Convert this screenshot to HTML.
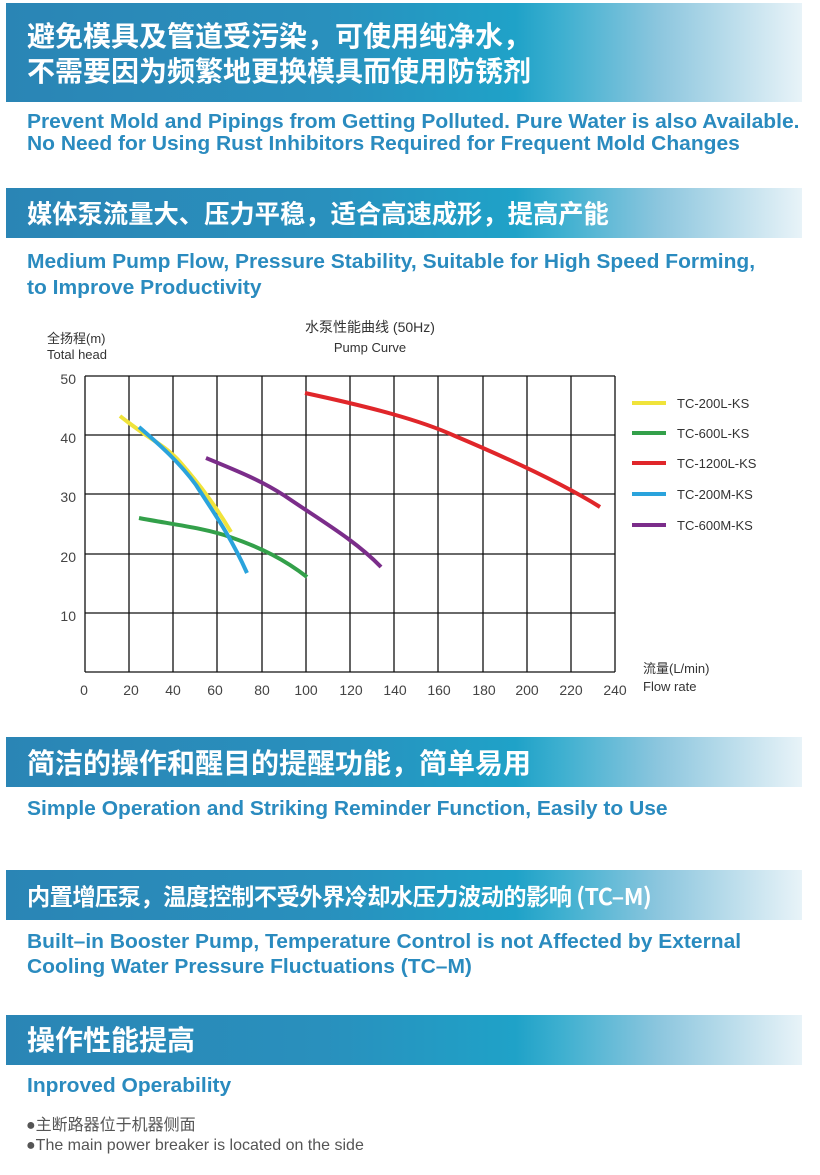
<!DOCTYPE html>
<html><head><meta charset="utf-8"><style>
*{margin:0;padding:0;box-sizing:border-box}
body{width:820px;height:1175px;background:#fff;position:relative;overflow:hidden;font-family:"Liberation Sans","Noto Sans CJK SC",sans-serif}
.b{position:absolute;left:6px;width:796px;background:linear-gradient(90deg,#2a85b5 0%,#2990bd 40%,#1fa2c8 64%,#3fb0d0 70%,#8cc6de 82%,#e8f3f8 100%)}
.cn{position:absolute;left:27px;color:#fff;font-weight:bold;font-size:28px;white-space:nowrap;font-family:"Noto Sans CJK SC","WenQuanYi Zen Hei",sans-serif;line-height:36px}
.en{position:absolute;left:27px;color:#2a8bbf;font-weight:bold;font-size:20px;white-space:nowrap;transform:scaleX(1.05);transform-origin:left top;line-height:22px}
.g{position:absolute;left:26px;color:#555;font-size:16px;white-space:nowrap}
</style></head><body>
<div class="b" style="top:3px;height:99px"></div>
<div class="cn" style="top:17px">避免模具及管道受污染，可使用纯净水，</div>
<div class="cn" style="top:52px">不需要因为频繁地更换模具而使用防锈剂</div>
<div class="en" style="top:111px">Prevent Mold and Pipings from Getting Polluted. Pure Water is also Available.<br>No Need for Using Rust Inhibitors Required for Frequent Mold Changes</div>

<div class="b" style="top:188px;height:50px"></div>
<div class="cn" style="top:195px;font-size:25.3px">媒体泵流量大、压力平稳，适合高速成形，提高产能</div>
<div class="en" style="top:249px;line-height:26px">Medium Pump Flow, Pressure Stability, Suitable for High Speed Forming,<br>to Improve Productivity</div>

<svg style="position:absolute;left:0;top:300px" width="820" height="410" viewBox="0 300 820 410" font-family="Liberation Sans, Noto Sans CJK SC, sans-serif">
<g fill="#333" font-size="13">
<text x="47" y="343">全扬程(m)</text><text x="47" y="359">Total head</text>
<text x="370" y="332" text-anchor="middle" font-size="14">水泵性能曲线 (50Hz)</text>
<text x="370" y="352" text-anchor="middle">Pump Curve</text>
<text x="643" y="673">流量(L/min)</text><text x="643" y="691">Flow rate</text>
</g>
<g stroke="#111" stroke-width="1.3">
<line x1="85" y1="376" x2="615" y2="376"/><line x1="85" y1="435" x2="615" y2="435"/><line x1="85" y1="494" x2="615" y2="494"/><line x1="85" y1="554" x2="615" y2="554"/><line x1="85" y1="613" x2="615" y2="613"/><line x1="85" y1="672" x2="615" y2="672"/>
<line x1="85" y1="376" x2="85" y2="672"/><line x1="129" y1="376" x2="129" y2="672"/><line x1="173" y1="376" x2="173" y2="672"/><line x1="217" y1="376" x2="217" y2="672"/><line x1="262" y1="376" x2="262" y2="672"/><line x1="306" y1="376" x2="306" y2="672"/><line x1="350" y1="376" x2="350" y2="672"/><line x1="394" y1="376" x2="394" y2="672"/><line x1="438" y1="376" x2="438" y2="672"/><line x1="483" y1="376" x2="483" y2="672"/><line x1="527" y1="376" x2="527" y2="672"/><line x1="571" y1="376" x2="571" y2="672"/><line x1="615" y1="376" x2="615" y2="672"/>
</g>
<g fill="#444" font-size="14" text-anchor="end">
<text x="76" y="384">50</text><text x="76" y="443">40</text><text x="76" y="502">30</text><text x="76" y="562">20</text><text x="76" y="621">10</text>
</g>
<g fill="#444" font-size="14" text-anchor="middle">
<text x="84" y="695">0</text><text x="131" y="695">20</text><text x="173" y="695">40</text><text x="215" y="695">60</text><text x="262" y="695">80</text><text x="306" y="695">100</text><text x="351" y="695">120</text><text x="395" y="695">140</text><text x="439" y="695">160</text><text x="484" y="695">180</text><text x="527" y="695">200</text><text x="571" y="695">220</text><text x="615" y="695">240</text>
</g>
<g fill="none" stroke-width="4" stroke-linecap="butt">
<path d="M120,416 C150,440 165,445 180,462 C200,485 215,505 231,532" stroke="#f0e33a"/>
<path d="M139,518 C170,524 205,528 230,537 C262,548 285,560 307,577" stroke="#33a04a"/>
<path d="M305,393 C370,407 420,420 455,436 C500,455 560,482 600,507" stroke="#e0262a"/>
<path d="M139,427 C160,445 180,463 196,485 C212,510 230,535 247,573" stroke="#2aa3dc"/>
<path d="M206,458 C240,472 262,481 285,496 C320,520 355,540 381,567" stroke="#7b2d8a"/>
</g>
<g stroke-width="4">
<line x1="632" y1="403" x2="666" y2="403" stroke="#f0e33a"/>
<line x1="632" y1="433" x2="666" y2="433" stroke="#33a04a"/>
<line x1="632" y1="463" x2="666" y2="463" stroke="#e0262a"/>
<line x1="632" y1="494" x2="666" y2="494" stroke="#2aa3dc"/>
<line x1="632" y1="525" x2="666" y2="525" stroke="#7b2d8a"/>
</g>
<g fill="#333" font-size="13">
<text x="677" y="408">TC-200L-KS</text><text x="677" y="438">TC-600L-KS</text><text x="677" y="468">TC-1200L-KS</text><text x="677" y="499">TC-200M-KS</text><text x="677" y="530">TC-600M-KS</text>
</g>
</svg>

<div class="b" style="top:737px;height:50px"></div>
<div class="cn" style="top:744px">简洁的操作和醒目的提醒功能，简单易用</div>
<div class="en" style="top:798px">Simple Operation and Striking Reminder Function, Easily to Use</div>

<div class="b" style="top:870px;height:50px"></div>
<div class="cn" style="top:877px;font-size:23.2px;letter-spacing:-0.5px">内置增压泵，温度控制不受外界冷却水压力波动的影响 (TC–M)</div>
<div class="en" style="top:930px;line-height:25px">Built–in Booster Pump, Temperature Control is not Affected by External<br>Cooling Water Pressure Fluctuations (TC–M)</div>

<div class="b" style="top:1015px;height:50px"></div>
<div class="cn" style="top:1021px">操作性能提高</div>
<div class="en" style="top:1075px">Inproved Operability</div>
<div class="g" style="top:1111px"><span>●</span><span style="font-family:'Noto Sans CJK SC',sans-serif">主断路器位于机器侧面</span></div>
<div class="g" style="top:1137px">●The main power breaker is located on the side</div>
</body></html>
